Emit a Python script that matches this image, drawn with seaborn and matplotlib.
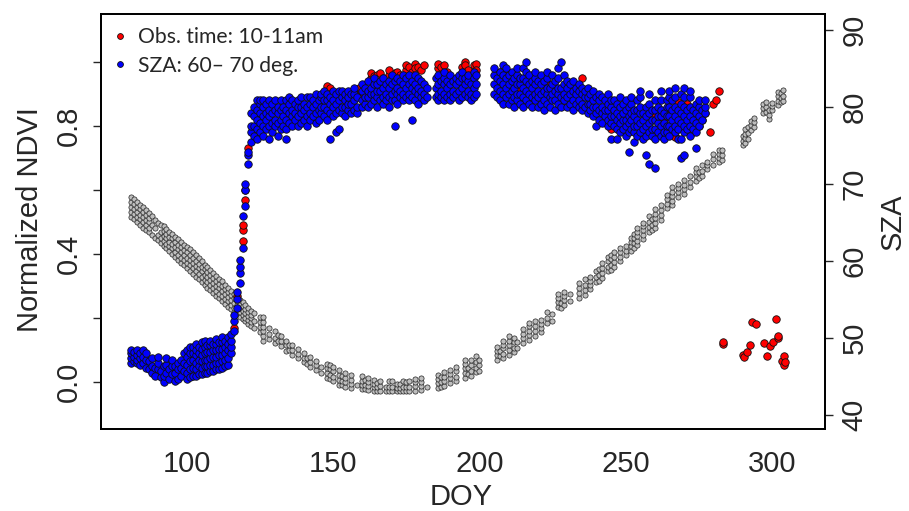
import matplotlib
matplotlib.use("Agg")
import matplotlib.pyplot as plt
from matplotlib.lines import Line2D
from matplotlib.font_manager import FontProperties
import pandas as pd
import seaborn as sns

# ---------------- data ----------------
# Normalized NDVI, observations with SZA 60-70 deg (blue), per DOY
blue_ndvi_by_doy = {
    81: [.06, .075, .09, .10], 82: [.065, .08, .095], 83: [.06, .07, .085, .10],
    84: [.055, .075, .09], 85: [.06, .08, .10], 86: [.045, .07, .09], 87: [.04, .065],
    88: [.03, .05, .075], 89: [.02, .045], 90: [.04, .06, .08], 91: [.015, .035],
    92: [.0, .02, .05], 93: [.03, .055, .075], 94: [.01, .04], 95: [.025, .05, .07],
    96: [.005, .03, .05], 97: [.01, .04, .06], 98: [.02, .045, .07], 99: [.035, .06, .09],
    100: [.01, .03, .055, .08, .10], 101: [.015, .04, .065, .09, .11],
    102: [.02, .045, .07, .09, .11], 103: [.02, .04, .06, .085, .10, .12],
    104: [.025, .05, .07, .09, .11], 105: [.025, .045, .065, .085, .105, .125],
    106: [.03, .05, .07, .09, .11, .13], 107: [.03, .05, .07, .095, .115],
    108: [.035, .055, .075, .095, .115, .13], 109: [.035, .055, .08, .10, .12],
    110: [.04, .06, .08, .10, .12, .135], 111: [.04, .06, .085, .105, .125],
    112: [.045, .065, .085, .105, .125, .14], 113: [.05, .07, .09, .11, .13],
    114: [.055, .075, .10, .12, .14], 115: [.09, .11, .13, .15], 116: [.16, .19, .21],
    117: [.23, .26, .28], 118: [.31, .34, .36, .38], 119: [.42, .52], 120: [.55, .60, .62],
    121: [.68, .71, .72], 122: [.75, .78, .80, .84], 123: [.77, .80, .83, .86],
    124: [.76, .79, .82, .85, .88], 125: [.78, .81, .84, .87, .88],
    126: [.77, .80, .83, .86, .88], 127: [.79, .82, .84, .87], 128: [.76, .80, .83, .85, .88],
    129: [.78, .81, .84, .87], 130: [.80, .82, .85, .88], 131: [.77, .81, .84, .86],
    132: [.79, .82, .85, .88], 133: [.80, .83, .86], 134: [.76, .79, .82, .85, .88],
    135: [.81, .84, .87, .89], 136: [.80, .83, .85, .88], 137: [.82, .84, .87],
    138: [.80, .83, .86, .88], 139: [.81, .84, .86, .89], 140: [.82, .85, .87],
    141: [.80, .83, .86, .89], 142: [.82, .84, .87, .89], 143: [.83, .86, .88],
    144: [.81, .84, .87, .90], 145: [.82, .85, .88], 146: [.84, .86, .89, .90],
    147: [.83, .86, .88, .91], 148: [.82, .85, .88, .90], 149: [.76, .84, .87, .89],
    150: [.83, .86, .88, .91], 151: [.78, .84, .87, .90], 152: [.79, .85, .88, .91],
    153: [.84, .86, .89, .91], 154: [.83, .86, .88, .90], 155: [.85, .87, .89, .91],
    156: [.84, .87, .90], 157: [.85, .88, .90, .92], 158: [.84, .86, .89],
    160: [.86, .88, .91, .93], 161: [.87, .89, .92], 162: [.86, .89, .91, .94],
    163: [.87, .90, .92], 164: [.88, .90, .93, .95], 165: [.86, .89, .91, .93],
    166: [.88, .91, .94], 167: [.87, .89, .92, .95], 168: [.88, .90, .93],
    169: [.86, .89, .92, .94], 170: [.88, .90, .93, .96], 171: [.80, .88, .91, .94],
    172: [.87, .90, .92, .95], 173: [.89, .91, .94], 174: [.88, .90, .93, .96],
    175: [.89, .92, .95], 176: [.88, .90, .93, .96], 177: [.82, .89, .92, .94],
    178: [.88, .91, .93, .96], 179: [.87, .90, .92, .95], 180: [.89, .91, .94],
    181: [.88, .90, .93], 182: [.89, .92], 185: [.89, .92, .95],
    186: [.88, .90, .93, .96], 187: [.89, .91, .94], 188: [.88, .90, .93, .95, .97],
    189: [.89, .92, .94], 190: [.88, .90, .93, .96], 191: [.89, .91, .94],
    192: [.90, .93, .95], 193: [.88, .91, .94, .96], 194: [.89, .92, .95, .97],
    195: [.90, .93, .95], 196: [.89, .91, .94, .96], 197: [.88, .90, .93],
    198: [.89, .92, .95, .97], 199: [.90, .93, .96],
    205: [.90, .93, .96, .98], 206: [.89, .92, .95], 207: [.88, .91, .94, .97],
    208: [.87, .90, .93, .96, .99], 209: [.89, .92, .95, .98], 210: [.87, .90, .93, .96],
    211: [.88, .91, .94, .97], 212: [.86, .89, .92, .95], 213: [.88, .90, .93, .96, .98],
    214: [.87, .90, .93, .95], 215: [.86, .89, .92, .95, .98], 216: [.88, .91, .94, .97, 1.0],
    217: [.87, .90, .93, .96], 218: [.86, .89, .92, .94], 219: [.88, .90, .93, .95, .97],
    220: [.86, .89, .91, .94], 221: [.87, .90, .93, .96], 222: [.85, .88, .91, .94],
    223: [.87, .90, .92, .95, .97], 224: [.86, .89, .92], 225: [.88, .90, .93, .96],
    226: [.85, .88, .91, .94], 227: [.87, .90, .92, .95, .98], 228: [.86, .89, .92, 1.0],
    229: [.88, .90, .93, .96], 230: [.86, .89, .92, .94], 231: [.87, .90, .93],
    232: [.85, .88, .91, .94], 233: [.87, .90, .92], 234: [.86, .88, .91, .93],
    235: [.85, .87, .90, .92], 236: [.86, .89, .91], 237: [.84, .87, .89, .92],
    238: [.85, .87, .90], 239: [.83, .86, .88, .91], 240: [.80, .84, .86, .89],
    241: [.82, .85, .88, .90], 242: [.81, .84, .86, .89], 243: [.83, .85, .88],
    244: [.80, .82, .85, .87, .90], 245: [.76, .81, .83, .86, .88], 246: [.80, .83, .85, .88],
    247: [.76, .79, .82, .84, .87], 248: [.78, .81, .83, .86, .89], 249: [.79, .82, .84, .87],
    250: [.77, .80, .82, .85, .88], 251: [.72, .78, .81, .83, .86], 252: [.79, .82, .84, .87, .89],
    253: [.75, .78, .80, .83, .85], 254: [.77, .80, .82, .85, .88],
    255: [.78, .81, .84, .86, .89, .91], 256: [.76, .79, .82, .84],
    257: [.71, .77, .80, .83, .86], 258: [.68, .78, .81, .84, .87, .90], 259: [.77, .79, .82, .85],
    260: [.67, .76, .79, .82, .85, .88], 261: [.78, .81, .83, .86],
    262: [.77, .80, .83, .85, .88, .91], 263: [.76, .78, .81, .84], 264: [.78, .80, .83, .86, .88],
    265: [.77, .80, .83, .86, .89, .91], 266: [.79, .82, .85, .88],
    267: [.78, .80, .83, .86, .89, .92], 268: [.76, .79, .82, .85],
    269: [.70, .76, .81, .84, .87, .90], 270: [.71, .78, .80, .83, .86, .89, .92],
    271: [.79, .82, .85], 272: [.77, .80, .83, .86, .89, .91], 273: [.79, .82, .85],
    274: [.73, .78, .81, .84, .87], 275: [.80, .83, .86, .88], 276: [.82, .85],
    277: [.84, .86, .88],
}

# Normalized NDVI, observations 10-11 am (red)
red_doy = [116, 117, 119, 119, 119, 120, 120, 121, 124, 125, 138, 138, 139, 145, 148,
           149, 149, 150, 159, 159, 160, 163, 163, 164, 165, 165, 166, 167, 169, 169,
           170, 171, 172, 172, 173, 175, 175, 176, 177, 178, 178, 179, 180, 181, 186,
           186, 187, 188, 189, 194, 195, 195, 196, 198, 199, 199, 206, 207, 208, 210,
           210, 211, 212, 213, 216, 218, 223, 226, 230, 230, 232, 235, 240, 245, 247,
           250, 255, 256, 259, 261, 263, 265, 267, 267, 268, 270, 271, 273, 273, 275,
           276, 277, 279, 280, 281, 282,
           283.4, 283.4, 290.3, 290.6, 291.5, 292.4, 293.4, 294.5, 297.4, 298.3, 299.4,
           300.4, 301.4, 302.2, 302.2, 303.6, 304.3, 304.3, 304.5]
red_ndvi = [.17, .27, .44, .475, .49, .57, .60, .73, .845, .825, .85, .83, .84, .88, .925,
            .92, .90, .88, .92, .90, .905, .95, .965, .955, .945, .96, .965, .95, .96, .975,
            .955, .965, .95, .97, .96, .975, .99, .985, .97, .995, .98, .985, .975, .99, .98,
            .995, .985, .99, .97, .985, 1.0, .99, .975, .99, .995, .975, .955, .97, .965, .965,
            .935, .935, .945, .92, .95, .96, .93, .92, .89, .865, .86, .95, .84, .79, .83,
            .80, .80, .79, .83, .795, .82, .84, .77, .765, .875, .84, .87, .78, .81, .80,
            .82, .84, .78, .87, .88, .91,
            .119, .125, .084, .079, .095, .116, .188, .181, .121, .081, .113,
            .126, .197, .137, .145, .066, .082, .052, .063]

# Solar zenith angle (deg) of the observations, per DOY (grey, right axis)
sza_by_doy = {
    81: [65.7, 66.4, 67.0, 67.7, 68.3], 82: [65.4, 66.1, 66.7, 67.4, 68.0],
    83: [65.0, 65.7, 66.3, 67.0, 67.6], 84: [64.7, 65.4, 66.0, 66.7, 67.3],
    85: [64.3, 65.0, 65.7, 66.3, 67.0], 86: [64.0, 64.7, 65.3, 66.0, 66.6],
    87: [63.7, 64.3, 65.0, 65.6, 66.2], 88: [63.4, 64.7, 65.8], 89: [63.0, 64.2, 65.3],
    90: [62.7, 63.4, 64.9], 91: [62.3, 63.0, 63.7, 64.7], 92: [61.9, 62.6, 63.2, 63.9, 64.5],
    93: [61.6, 62.2, 62.9, 63.5, 64.1], 94: [61.3, 61.9, 62.5, 63.1, 63.7],
    95: [60.9, 61.6, 62.2, 62.9, 63.5], 96: [60.5, 61.2, 61.8, 62.5, 63.1],
    97: [60.1, 60.8, 61.5, 62.1, 62.8], 98: [59.7, 60.4, 61.1, 61.8, 62.4],
    99: [59.4, 60.1, 60.8, 61.4, 62.1], 100: [59.0, 59.7, 60.4, 61.1, 61.8],
    101: [58.7, 59.4, 60.1, 60.8, 61.5], 102: [58.3, 59.0, 59.7, 60.4, 61.1],
    103: [57.9, 58.6, 59.3, 60.0, 60.7], 104: [57.6, 58.3, 59.0, 59.6, 60.3],
    105: [57.2, 57.9, 58.6, 59.2, 59.9], 106: [56.9, 57.5, 58.2, 58.9, 59.5],
    107: [56.5, 57.2, 57.9, 58.5, 59.2], 108: [56.2, 56.8, 57.5, 58.1, 58.8],
    109: [55.8, 56.5, 57.1, 57.8, 58.4], 110: [55.4, 56.1, 56.7, 57.4, 58.0],
    111: [55.1, 55.7, 56.4, 57.0, 57.6], 112: [54.8, 55.4, 56.0, 56.7, 57.3],
    113: [54.4, 55.0, 55.7, 56.3, 56.9], 114: [54.0, 54.7, 55.3, 55.9, 56.5],
    115: [53.7, 54.3, 54.9, 55.5, 56.1], 116: [53.3, 53.9, 54.5, 55.1, 55.7],
    117: [53.1, 53.7, 54.2, 54.8, 55.3], 118: [52.7, 53.3, 53.8, 54.4, 54.9],
    119: [52.4, 53.0, 53.5, 54.1, 54.6], 120: [52.1, 52.6, 53.2, 53.7, 54.2],
    121: [51.8, 52.3, 52.8, 53.3, 53.8], 122: [51.5, 52.0, 52.5, 53.0, 53.5],
    123: [51.2, 52.2, 53.2], 125: [50.7, 51.4, 52.0, 52.7],
    126: [49.6, 50.2, 50.8, 51.4, 52.0, 52.7], 128: [49.8, 50.5, 51.3], 130: [49.3, 50.0, 50.8],
    131: [49.5, 50.3], 132: [48.9, 49.5, 50.2], 134: [48.3, 49.0, 49.6], 135: [48.4, 49.1],
    136: [47.8, 48.4, 49.0], 138: [47.3, 47.9, 48.5], 140: [46.8, 47.4, 48.0],
    141: [46.6, 47.3], 142: [46.2, 46.8, 47.5], 144: [45.8, 46.4, 46.9], 146: [45.4, 46.2],
    148: [44.8, 45.4, 46.0, 46.6], 149: [44.6, 45.2, 45.9, 46.4], 150: [44.3, 44.9, 45.6, 46.2],
    152: [43.9, 44.5, 45.2, 45.8], 153: [43.8, 44.4, 45.0], 154: [43.6, 44.2, 44.8, 45.4],
    156: [43.4, 44.0, 44.5, 45.1], 158: [43.8], 160: [43.3, 43.9, 44.4, 45.0],
    161: [43.3, 43.9, 44.5], 162: [43.2, 43.7, 44.2, 44.8], 164: [43.1, 43.6, 44.0, 44.5],
    165: [43.1, 43.6, 44.1], 166: [43.1, 43.7, 44.4], 168: [43.0, 43.6],
    169: [43.0, 43.6, 44.3], 170: [43.0, 43.6, 44.3], 172: [43.0, 43.5, 44.0],
    173: [43.0, 43.5, 44.0], 174: [43.0, 43.6, 44.3], 175: [43.0, 43.6, 44.2],
    176: [43.0, 43.6, 44.3], 178: [43.1, 43.7, 44.2, 44.6], 180: [43.2, 43.7, 44.2, 44.7],
    182: [43.6], 186: [43.5, 44.1, 44.6, 45.2], 187: [43.6, 44.2, 44.9],
    188: [43.7, 44.3, 44.9, 45.5], 190: [44.1, 44.7, 45.3, 45.8], 192: [44.3, 44.9, 45.6, 46.2],
    195: [44.8, 45.4, 46.0, 46.6, 47.1], 196: [45.3, 46.0], 197: [45.0, 45.7, 46.4, 47.1],
    199: [45.5, 46.1, 46.8, 47.6], 200: [45.7, 46.4, 47.1],
    206: [47.1, 47.7, 48.2, 48.8], 207: [47.6, 48.3], 208: [47.3, 47.9, 48.6, 49.1, 49.6],
    210: [47.8, 48.4, 49.0, 49.6, 50.2], 212: [48.1, 48.7, 49.4, 50.0], 213: [48.7, 49.4],
    215: [49.3, 49.9, 50.5, 51.1], 217: [49.7, 50.3, 50.9, 51.5, 51.9],
    219: [50.2, 50.8, 51.5, 52.1], 221: [50.7, 51.3, 51.8, 52.3], 223: [51.9, 52.6, 53.3],
    225: [52.2, 53.1], 227: [54.0, 54.6, 55.2, 55.7], 228: [53.8, 54.5],
    229: [54.3, 54.9, 55.4, 55.9], 231: [54.8, 55.7], 234: [55.2, 55.8, 56.4, 57.1],
    236: [55.5, 56.2, 56.9, 57.6], 238: [56.3, 56.9, 57.4, 57.9], 240: [57.2, 57.9, 58.6],
    241: [57.4, 58.2, 58.9], 242: [57.8, 58.4, 59.1, 59.7], 244: [58.6, 59.2, 59.9, 60.5],
    245: [58.8, 59.5, 60.2, 60.8], 246: [59.2, 59.8, 60.5, 61.1], 248: [59.9, 60.5, 61.1, 61.7],
    250: [60.7, 61.3, 61.9], 252: [61.3, 61.9, 62.4, 62.9], 253: [61.7, 62.3, 62.9, 63.5],
    254: [62.0, 62.6, 63.2, 63.7, 64.3], 256: [62.8, 63.4, 64.0, 64.5, 64.9],
    258: [63.8, 64.4, 65.1, 65.8], 259: [64.0, 64.7, 65.4], 260: [64.3, 64.9, 65.5, 66.1, 66.7],
    262: [65.3, 65.9, 66.6, 67.2], 264: [66.8, 67.4, 68.0, 68.6],
    266: [67.2, 67.8, 68.4, 69.0, 69.6], 268: [68.3, 68.9, 69.5, 70.0],
    270: [68.7, 69.3, 69.9, 70.5], 272: [69.6, 70.3, 71.0], 274: [70.4, 71.0, 71.5, 72.0],
    275: [70.8, 71.5], 276: [71.0, 71.7, 72.4], 278: [71.9, 72.4, 72.9],
    280: [72.5, 73.2, 73.9], 282: [72.9, 73.4, 73.9, 74.4], 283: [73.1, 73.7, 74.4],
    290: [75.0, 75.6, 76.2], 291: [75.3, 75.9, 76.5, 77.1], 292: [75.8, 76.6, 77.4],
    293: [77.0, 77.6, 78.2], 294: [77.4, 78.0, 78.6], 297: [79.2, 79.8, 80.4],
    298: [79.4, 80.0, 80.7], 299: [78.4, 79.0, 79.6], 300: [79.6, 80.1, 80.5],
    302: [80.2, 80.8, 81.4, 82.0], 303: [80.6, 81.2, 81.8], 304: [80.8, 81.4, 82.2],
}

x_ticks = [100, 150, 200, 250, 300]
ndvi_ticks = [0.0, 0.2, 0.4, 0.6, 0.8, 1.0]
ndvi_tick_labels = ["0.0", "", "0.4", "", "0.8", ""]
sza_ticks = [40, 50, 60, 70, 80, 90]
legend_labels = ["Obs. time: 10-11am", "SZA: 60\u2013 70 deg."]


def by_day_frame(d, name):
    rows = [(k, v) for k, vals in d.items() for v in vals]
    return pd.DataFrame(rows, columns=["doy", name])


blue_df = by_day_frame(blue_ndvi_by_doy, "ndvi")
red_df = pd.DataFrame({"doy": red_doy, "ndvi": red_ndvi})
sza_df = by_day_frame(sza_by_doy, "sza")

# ---------------- figure ----------------
sns.set_style("white")
plt.rcParams["font.family"] = ["Liberation Sans", "DejaVu Sans"]

fig = plt.figure(figsize=(9.09, 5.11), dpi=100)
ax = fig.add_axes([0.1111, 0.1595, 0.7965, 0.8125])
ax2 = ax.twinx()
ax.set_zorder(ax2.get_zorder() + 1)
ax.patch.set_visible(False)

sns.scatterplot(data=sza_df, x="doy", y="sza", ax=ax2, color="#bebebe",
                edgecolor="#222222", linewidth=0.5, s=14, legend=False)
sns.scatterplot(data=red_df, x="doy", y="ndvi", ax=ax, color="#ff0000",
                edgecolor="#111111", linewidth=0.6, s=29, legend=False)
sns.scatterplot(data=blue_df, x="doy", y="ndvi", ax=ax, color="#0000ff",
                edgecolor="#111111", linewidth=0.6, s=29, legend=False)

ax.set_xlim(70.6, 318.2)
ax.set_ylim(-0.148, 1.149)
ax2.set_ylim(38.05, 92.05)

ax.set_xticks(x_ticks)
ax.set_xticklabels([str(t) for t in x_ticks])
ax.set_yticks(ndvi_ticks)
ax.set_yticklabels(ndvi_tick_labels, rotation=90, va="center")
ax2.set_yticks(sza_ticks)
ax2.set_yticklabels([str(t) for t in sza_ticks], rotation=90, va="center")

tick_font = 21
ax.tick_params(axis="x", direction="out", length=6, width=1, labelsize=tick_font, pad=9)
ax.tick_params(axis="y", direction="out", length=6, width=1, labelsize=tick_font, pad=7, left=True)
ax2.tick_params(axis="y", direction="out", length=6, width=1, labelsize=tick_font, pad=5, right=True)
ax.set_xlabel("")
ax.set_ylabel("")
ax2.set_ylabel("")

for a in (ax, ax2):
    for sp in a.spines.values():
        sp.set_visible(True)
        sp.set_color("black")
        sp.set_linewidth(1.3)

fig.text(30 / 909, 1 - 220 / 511, "Normalized NDVI", rotation=90, ha="center",
         va="center", fontsize=21)
fig.text(461 / 909, 1 - 497 / 511, "DOY", ha="center", va="center", fontsize=21)
fig.text(893 / 909, 1 - 222 / 511, "SZA", rotation=90, ha="center", va="center",
         fontsize=21)

handles = [
    Line2D([], [], ls="", marker="o", markersize=4.2, markerfacecolor="#ff0000",
           markeredgecolor="#111111", markeredgewidth=0.6),
    Line2D([], [], ls="", marker="o", markersize=4.2, markerfacecolor="#0000ff",
           markeredgecolor="#111111", markeredgewidth=0.6),
]
ax.legend(handles, legend_labels, loc="upper left", bbox_to_anchor=(0.0, 1.0),
          frameon=False, prop=FontProperties(family="Lato", size=15.2),
          handlelength=0.6, handletextpad=0.55, borderaxespad=0.25, borderpad=0.35,
          labelspacing=0.42)

fig.savefig("out.png", dpi=100)
